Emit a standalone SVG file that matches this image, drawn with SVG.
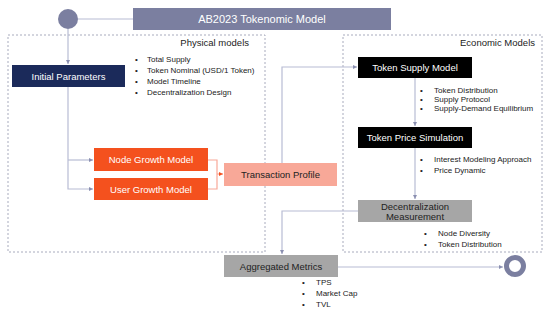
<svg xmlns="http://www.w3.org/2000/svg" width="550" height="316" viewBox="0 0 550 316">
<defs>
<marker id="ah" markerWidth="5" markerHeight="5" refX="4" refY="2.5" orient="auto" markerUnits="userSpaceOnUse"><path d="M0,0.5 L4,2.5 L0,4.5 z" fill="#8a8fb0"/></marker>
<marker id="ahr" markerWidth="5" markerHeight="5" refX="4" refY="2.5" orient="auto" markerUnits="userSpaceOnUse"><path d="M0,0.5 L4,2.5 L0,4.5 z" fill="#f4511e"/></marker>
</defs>
<style>
text{font-family:"Liberation Sans",Arial,sans-serif;}
.lbl{font-size:9.5px;text-anchor:middle;}
.w{fill:#ffffff;}
.d{fill:#222222;}
.b{font-size:8px;fill:#222222;}
.sec{font-size:9.5px;fill:#222222;text-anchor:end;}
.con{fill:none;stroke:#b8bcd4;stroke-width:1.2;}
.dash{fill:none;stroke:#a8abbd;stroke-width:1;stroke-dasharray:2,2;}
</style>
<rect width="550" height="316" fill="#ffffff"/>
<g id="physical-models">
<rect class="dash" x="8" y="35" width="257" height="217"/>
<text class="sec" x="249" y="46">Physical models</text>
</g>
<g id="economic-models">
<rect class="dash" x="343" y="35" width="199" height="217"/>
<text class="sec" x="535" y="46">Economic Models</text>
</g>
<g id="connectors">
<line class="con" x1="78" y1="19" x2="133" y2="19"/>
<line class="con" x1="68" y1="29" x2="68" y2="64" marker-end="url(#ah)"/>
<polyline class="con" points="68,87 68,189 93,189" marker-end="url(#ah)"/>
<line class="con" x1="68" y1="160" x2="93" y2="160" marker-end="url(#ah)"/>
<polyline fill="none" stroke="#f8a898" stroke-width="1.2" points="208,160 217,160 217,189 208,189"/>
<line stroke="#f8a898" stroke-width="1.2" x1="217" y1="174" x2="223" y2="174" marker-end="url(#ahr)"/>
<polyline class="con" points="282,163 282,67 357,67" marker-end="url(#ah)"/>
<line class="con" x1="415" y1="78" x2="415" y2="126" marker-end="url(#ah)"/>
<line class="con" x1="415" y1="148" x2="415" y2="199" marker-end="url(#ah)"/>
<polyline class="con" points="358,211 282,211 282,254" marker-end="url(#ah)"/>
<line class="con" x1="338" y1="267" x2="503" y2="267" marker-end="url(#ah)"/>
</g>
<g id="start">
<circle cx="68" cy="19" r="10" fill="#7b7fa0"/>
</g>
<g id="title">
<rect x="133" y="8" width="258" height="22" fill="#7b7fa0"/>
<text x="262" y="23" font-size="11" fill="#ffffff" text-anchor="middle">AB2023 Tokenomic Model</text>
</g>
<g id="initial-parameters">
<rect x="12" y="65" width="113" height="22" fill="#1b2a5a"/>
<text class="lbl w" x="68.5" y="79.5">Initial Parameters</text>
<text class="b" x="135" y="62">•</text><text class="b" x="147" y="62">Total Supply</text>
<text class="b" x="135" y="73">•</text><text class="b" x="147" y="73">Token Nominal (USD/1 Token)</text>
<text class="b" x="135" y="84">•</text><text class="b" x="147" y="84">Model Timeline</text>
<text class="b" x="135" y="95">•</text><text class="b" x="147" y="95">Decentralization Design</text>
</g>
<g id="node-growth-model">
<rect x="94" y="148" width="114" height="23" fill="#f4511e"/>
<text class="lbl w" x="151" y="163">Node Growth Model</text>
</g>
<g id="user-growth-model">
<rect x="94" y="178" width="114" height="22" fill="#f4511e"/>
<text class="lbl w" x="151" y="192.5">User Growth Model</text>
</g>
<g id="transaction-profile">
<rect x="224" y="163" width="113" height="23" fill="#f8a898"/>
<text class="lbl d" x="280.5" y="178">Transaction Profile</text>
</g>
<g id="token-supply-model">
<rect x="358" y="57" width="114" height="21" fill="#000000"/>
<text class="lbl w" x="415" y="71">Token Supply Model</text>
<text class="b" x="420" y="93">•</text><text class="b" x="434" y="93">Token Distribution</text>
<text class="b" x="420" y="102">•</text><text class="b" x="434" y="102">Supply Protocol</text>
<text class="b" x="420" y="111">•</text><text class="b" x="434" y="111">Supply-Demand Equilibrium</text>
</g>
<g id="token-price-simulation">
<rect x="358" y="127" width="114" height="21" fill="#000000"/>
<text class="lbl w" x="415" y="141">Token Price Simulation</text>
<text class="b" x="420" y="162">•</text><text class="b" x="434" y="162">Interest Modeling Approach</text>
<text class="b" x="420" y="173">•</text><text class="b" x="434" y="173">Price Dynamic</text>
</g>
<g id="decentralization-measurement">
<rect x="358" y="200" width="114" height="22" fill="#a6a6a6"/>
<text class="lbl d" x="415" y="209.5">Decentralization</text>
<text class="lbl d" x="415" y="219.5">Measurement</text>
<text class="b" x="424" y="236">•</text><text class="b" x="438" y="236">Node Diversity</text>
<text class="b" x="424" y="247">•</text><text class="b" x="438" y="247">Token Distribution</text>
</g>
<g id="aggregated-metrics">
<rect x="224" y="255" width="114" height="22" fill="#a6a6a6"/>
<text class="lbl d" x="281" y="269.5">Aggregated Metrics</text>
<text class="b" x="302" y="285">•</text><text class="b" x="316" y="285">TPS</text>
<text class="b" x="302" y="296">•</text><text class="b" x="316" y="296">Market Cap</text>
<text class="b" x="302" y="307">•</text><text class="b" x="316" y="307">TVL</text>
</g>
<g id="end">
<circle cx="515" cy="266" r="8.5" fill="none" stroke="#7b7fa0" stroke-width="5"/>
</g>
</svg>
